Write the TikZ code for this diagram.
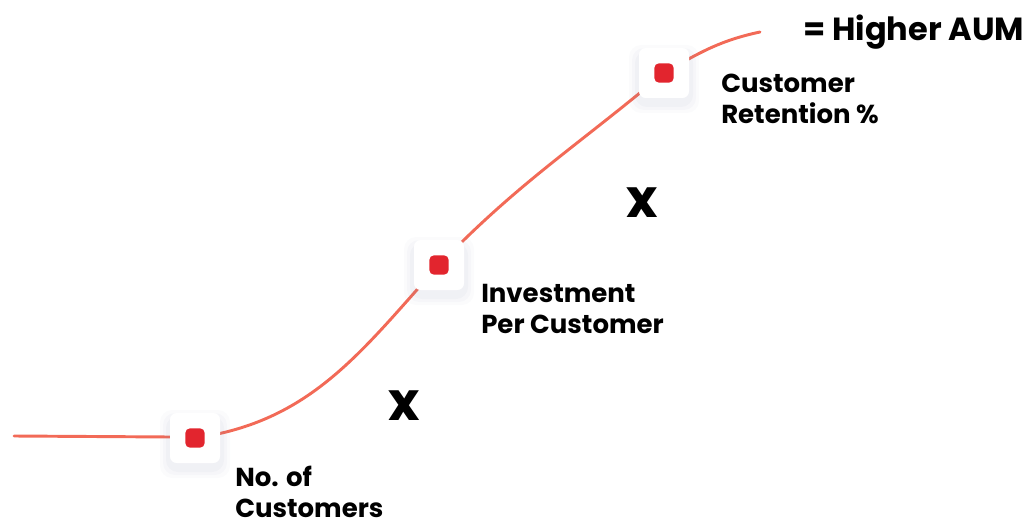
\documentclass[tikz,border=0pt]{standalone}
\usepackage{fontspec}
\setmainfont{Poppins}
\usetikzlibrary{calc}
\definecolor{curvec}{HTML}{F26A57}
\definecolor{dotred}{HTML}{E2252E}
\definecolor{shadowc}{HTML}{7C84A8}
\tikzset{
  px/.style={x=0.75pt,y=0.75pt},
  curve/.style={curvec,line width=2.2pt,line cap=round},
  card/.style={draw=none,fill=white,minimum width=37.5pt,minimum height=37.5pt,rounded corners=5pt,inner sep=0pt},
  reddot/.style={fill=dotred,minimum width=14.5pt,minimum height=14.5pt,rounded corners=3.5pt,inner sep=0pt},
  lbl/.style={font=\fontsize{19.5}{23}\selectfont\bfseries,align=left,anchor=north west,inner sep=0pt},
  times/.style={font=\fontsize{40}{40}\selectfont\bfseries,inner sep=0pt},
}
\begin{document}
\begin{tikzpicture}[px]
\useasboundingbox (0,0) rectangle (1024,-524);
% coordinates for card centres
\coordinate (c1) at (195,-438);
\coordinate (c2) at (439,-265);
\coordinate (c3) at (664,-73);
\coordinate (s) at (14,-436);
\coordinate (e) at (760,-32);
\coordinate (k1) at (170,-437);
% curve
\draw[curve] (s) -- (k1) -- (c1) to[out=8,in=228] (c2) to[out=46,in=220] (c3) to[out=30,in=192] (e);
% shadows
\foreach \c in {c1,c2,c3}{
  \foreach \g/\o in {10/0.03,7/0.04,4/0.05}{
    \fill[shadowc,opacity=\o,rounded corners=9pt] ($(\c)+(-25-\g,-25-\g-5)$) rectangle ($(\c)+(25+\g,25+\g-7)$);
  }
}
\node[card] (b1) at (c1) {};
\node[card] (b2) at (c2) {};
\node[card] (b3) at (c3) {};
\node[reddot] (d1) at (b1) {};
\node[reddot] (d2) at (b2) {};
\node[reddot] (d3) at (b3) {};
% labels
\node[lbl] (l3) at (721,-74) {Customer\\Retention \%};
\node[lbl] (l2) at (481,-284) {Investment\\Per Customer};
\node[lbl] (l1) at (235,-466) {No. of\\Customers};
\node[font=\fontsize{24}{24}\selectfont\bfseries,anchor=west,inner sep=0pt] (aum) at (803,-32) {= Higher AUM};
\node[times] (x1) at (404,-406) {x};
\node[times] (x2) at (642,-203) {x};
\end{tikzpicture}
\end{document}
